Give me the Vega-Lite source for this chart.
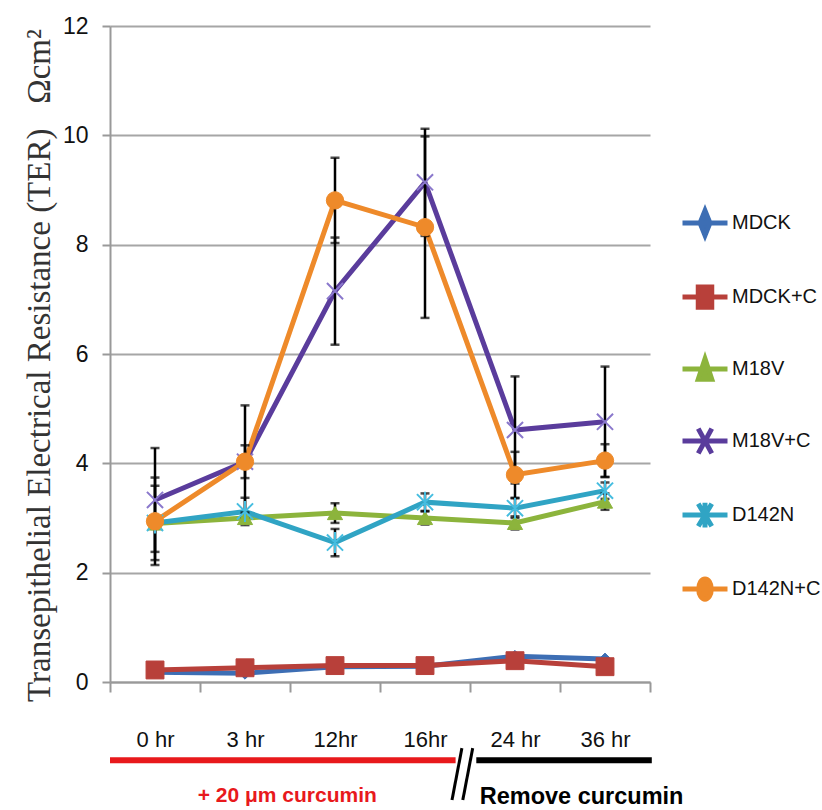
{
  "$schema": "https://vega.github.io/schema/vega-lite/v6.json",
  "width": 540,
  "height": 656,
  "autosize": {"type": "none"},
  "padding": {"left": 110, "top": 26, "right": 172, "bottom": 128},
  "background": "white",
  "config": {"view": {"stroke": null}},
  "resolve": {"scale": {"x": "independent", "y": "independent"}},
  "layer": [
    {
      "data": {"values": [
        {"series": "MDCK", "time": "0 hr", "value": 0.18, "err": 0},
        {"series": "MDCK", "time": "3 hr", "value": 0.16, "err": 0},
        {"series": "MDCK", "time": "12hr", "value": 0.28, "err": 0},
        {"series": "MDCK", "time": "16hr", "value": 0.29, "err": 0},
        {"series": "MDCK", "time": "24 hr", "value": 0.47, "err": 0},
        {"series": "MDCK", "time": "36 hr", "value": 0.42, "err": 0},
        {"series": "MDCK+C", "time": "0 hr", "value": 0.22, "err": 0},
        {"series": "MDCK+C", "time": "3 hr", "value": 0.26, "err": 0},
        {"series": "MDCK+C", "time": "12hr", "value": 0.30, "err": 0},
        {"series": "MDCK+C", "time": "16hr", "value": 0.30, "err": 0},
        {"series": "MDCK+C", "time": "24 hr", "value": 0.39, "err": 0},
        {"series": "MDCK+C", "time": "36 hr", "value": 0.28, "err": 0},
        {"series": "M18V", "time": "0 hr", "value": 2.9, "err": 0.1},
        {"series": "M18V", "time": "3 hr", "value": 3.0, "err": 0.1},
        {"series": "M18V", "time": "12hr", "value": 3.09, "err": 0.18},
        {"series": "M18V", "time": "16hr", "value": 3.0, "err": 0.12},
        {"series": "M18V", "time": "24 hr", "value": 2.91, "err": 0.12},
        {"series": "M18V", "time": "36 hr", "value": 3.3, "err": 0.15},
        {"series": "M18V+C", "time": "0 hr", "value": 3.33, "err": 0.95},
        {"series": "M18V+C", "time": "3 hr", "value": 4.03, "err": 1.03},
        {"series": "M18V+C", "time": "12hr", "value": 7.15, "err": 0.98},
        {"series": "M18V+C", "time": "16hr", "value": 9.14, "err": 0.98},
        {"series": "M18V+C", "time": "24 hr", "value": 4.61, "err": 0.98},
        {"series": "M18V+C", "time": "36 hr", "value": 4.76, "err": 1.01},
        {"series": "D142N", "time": "0 hr", "value": 2.91, "err": 0.68},
        {"series": "D142N", "time": "3 hr", "value": 3.12, "err": 0.25},
        {"series": "D142N", "time": "12hr", "value": 2.55, "err": 0.25},
        {"series": "D142N", "time": "16hr", "value": 3.29, "err": 0.16},
        {"series": "D142N", "time": "24 hr", "value": 3.18, "err": 0.18},
        {"series": "D142N", "time": "36 hr", "value": 3.5, "err": 0.15},
        {"series": "D142N+C", "time": "0 hr", "value": 2.94, "err": 0.8},
        {"series": "D142N+C", "time": "3 hr", "value": 4.03, "err": 0.3},
        {"series": "D142N+C", "time": "12hr", "value": 8.81, "err": 0.78},
        {"series": "D142N+C", "time": "16hr", "value": 8.32, "err": 1.66},
        {"series": "D142N+C", "time": "24 hr", "value": 3.79, "err": 0.42},
        {"series": "D142N+C", "time": "36 hr", "value": 4.05, "err": 0.3}
      ]},
      "encoding": {
        "x": {
          "field": "time", "type": "ordinal",
          "sort": ["0 hr", "3 hr", "12hr", "16hr", "24 hr", "36 hr"],
          "scale": {"paddingInner": 0, "paddingOuter": 0},
          "axis": {
            "title": null, "tickBand": "extent", "grid": false, "labelAngle": 0,
            "tickSize": 10, "tickColor": "#999999", "tickWidth": 2,
            "domainColor": "#999999", "domainWidth": 2,
            "labelFont": "Liberation Sans", "labelFontSize": 22, "labelColor": "#111111", "labelPadding": 37
          }
        },
        "y": {
          "field": "value", "type": "quantitative",
          "scale": {"domain": [0, 12], "nice": false, "zero": true},
          "axis": {
            "values": [0, 2, 4, 6, 8, 10, 12],
            "title": "Transepithelial Electrical Resistance (TER)\u00a0\u00a0\u00a0Ωcm²",
            "titleFont": "Liberation Serif", "titleFontSize": 33, "titleFontWeight": "normal",
            "titleColor": "#333333", "titlePadding": 6, "titleY": 339,
            "labelFont": "Liberation Sans", "labelFontSize": 23, "labelColor": "#111111", "labelPadding": 14,
            "tickSize": 8, "tickColor": "#999999", "tickWidth": 2,
            "domainColor": "#999999", "domainWidth": 2,
            "gridColor": "#a6a6a6", "gridWidth": 2
          }
        }
      },
      "layer": [
        {
          "mark": {"type": "line", "strokeWidth": 5},
          "encoding": {
            "color": {
              "field": "series", "type": "nominal",
              "scale": {
                "domain": ["MDCK", "MDCK+C", "M18V", "M18V+C", "D142N", "D142N+C"],
                "range": ["#3d6eb4", "#b8403a", "#8cb43c", "#5a3c9c", "#30a4c4", "#ee8a2a"]
              },
              "legend": {
                "title": null, "orient": "none", "legendX": 570, "legendY": 172,
                "symbolSize": 2025, "symbolStrokeWidth": 5, "rowPadding": 26,
                "labelFont": "Liberation Sans", "labelFontSize": 20, "labelColor": "#111111", "labelOffset": 2, "labelLimit": 300,
                "encode": {
                  "symbols": {
                    "update": {
                      "shape": {"signal": "datum.value === 'MDCK' ? 'M-1,0L1,0M0,-0.55L0.22,0L0,0.55L-0.22,0Z' : datum.value === 'MDCK+C' ? 'M-1,0L1,0M-0.3,-0.45L0.3,-0.45L0.3,0.45L-0.3,0.45Z' : datum.value === 'M18V' ? 'M-1,0L1,0M0,-0.45L0.3,0.45L-0.3,0.45Z' : datum.value === 'M18V+C' ? 'M-1,0L1,0M-0.3,-0.55L0.3,0.55M-0.3,0.55L0.3,-0.55' : datum.value === 'D142N' ? 'M-1,0L1,0M-0.3,-0.5L0.3,0.5M-0.3,0.5L0.3,-0.5M0,-0.55L0,0.55' : 'M-1,0L1,0M-0.28,0A0.28,0.45,0,1,0,0.28,0A0.28,0.45,0,1,0,-0.28,0Z'"},
                      "fill": {"signal": "scale('color', datum.value)"},
                      "strokeWidth": {"value": 5},
                      "size": {"value": 2025}
                    }
                  }
                }
              }
            }
          }
        },
        {
          "transform": [{"filter": "datum.err > 0"}],
          "mark": {"type": "errorbar", "color": "black", "ticks": {"size": 9, "thickness": 2.5}, "rule": {"strokeWidth": 2.5}},
          "encoding": {
            "y": {"field": "value", "type": "quantitative"},
            "yError": {"field": "err"}
          }
        },
        {
          "transform": [{"filter": "datum.series === 'MDCK'"}],
          "mark": {"type": "point", "shape": "diamond", "filled": true, "fill": "#3d6eb4", "stroke": "#3d6eb4", "strokeWidth": 1, "size": 140, "opacity": 1},
          "encoding": {}
        },
        {
          "transform": [{"filter": "datum.series === 'MDCK+C'"}],
          "mark": {"type": "point", "shape": "square", "filled": true, "fill": "#b8403a", "stroke": "#b8403a", "strokeWidth": 1, "size": 320, "opacity": 1},
          "encoding": {}
        },
        {
          "transform": [{"filter": "datum.series === 'M18V'"}],
          "mark": {"type": "point", "shape": "triangle-up", "filled": true, "fill": "#8cb43c", "stroke": "#8cb43c", "strokeWidth": 1, "size": 230, "opacity": 1},
          "encoding": {}
        },
        {
          "transform": [{"filter": "datum.series === 'M18V+C'"}],
          "mark": {"type": "point", "shape": "M-1,-1L1,1M-1,1L1,-1", "filled": false, "stroke": "#8a78cc", "strokeWidth": 2, "size": 260, "opacity": 1},
          "encoding": {}
        },
        {
          "transform": [{"filter": "datum.series === 'D142N'"}],
          "mark": {"type": "point", "shape": "M-1,-1L1,1M-1,1L1,-1M0,-1.3L0,1.3", "filled": false, "stroke": "#45bde0", "strokeWidth": 2, "size": 260, "opacity": 1},
          "encoding": {}
        },
        {
          "transform": [{"filter": "datum.series === 'D142N+C'"}],
          "mark": {"type": "point", "shape": "circle", "filled": true, "fill": "#ee8a2a", "stroke": "#ee8a2a", "strokeWidth": 1, "size": 300, "opacity": 1},
          "encoding": {}
        }
      ]
    },
    {
      "data": {"values": [{}]},
      "layer": [
        {
          "mark": {"type": "rule", "color": "#e8191c", "strokeWidth": 6},
          "encoding": {
            "x": {"datum": 0, "type": "quantitative", "scale": {"domain": [0, 6], "nice": false, "zero": false}, "axis": null},
            "x2": {"datum": 3.84},
            "y": {"datum": -1.43, "type": "quantitative", "scale": {"domain": [0, 12], "nice": false}, "axis": null}
          }
        },
        {
          "mark": {"type": "rule", "color": "black", "strokeWidth": 6},
          "encoding": {
            "x": {"datum": 4.07, "type": "quantitative"},
            "x2": {"datum": 6.02},
            "y": {"datum": -1.43, "type": "quantitative"}
          }
        },
        {
          "mark": {"type": "rule", "color": "black", "strokeWidth": 3},
          "encoding": {
            "x": {"datum": 3.8, "type": "quantitative"},
            "x2": {"datum": 3.91},
            "y": {"datum": -2.16, "type": "quantitative"},
            "y2": {"datum": -1.21}
          }
        },
        {
          "mark": {"type": "rule", "color": "black", "strokeWidth": 3},
          "encoding": {
            "x": {"datum": 3.92, "type": "quantitative"},
            "x2": {"datum": 4.03},
            "y": {"datum": -2.16, "type": "quantitative"},
            "y2": {"datum": -1.21}
          }
        },
        {
          "mark": {"type": "text", "text": "+ 20 μm curcumin", "color": "#e8191c", "font": "Liberation Sans", "fontWeight": "bold", "fontSize": 21, "align": "center", "baseline": "alphabetic"},
          "encoding": {
            "x": {"datum": 1.97, "type": "quantitative"},
            "y": {"datum": -2.2, "type": "quantitative"}
          }
        },
        {
          "mark": {"type": "text", "text": "Remove curcumin", "color": "black", "font": "Liberation Sans", "fontWeight": "bold", "fontSize": 23.5, "align": "center", "baseline": "alphabetic"},
          "encoding": {
            "x": {"datum": 5.24, "type": "quantitative"},
            "y": {"datum": -2.24, "type": "quantitative"}
          }
        }
      ]
    }
  ]
}
